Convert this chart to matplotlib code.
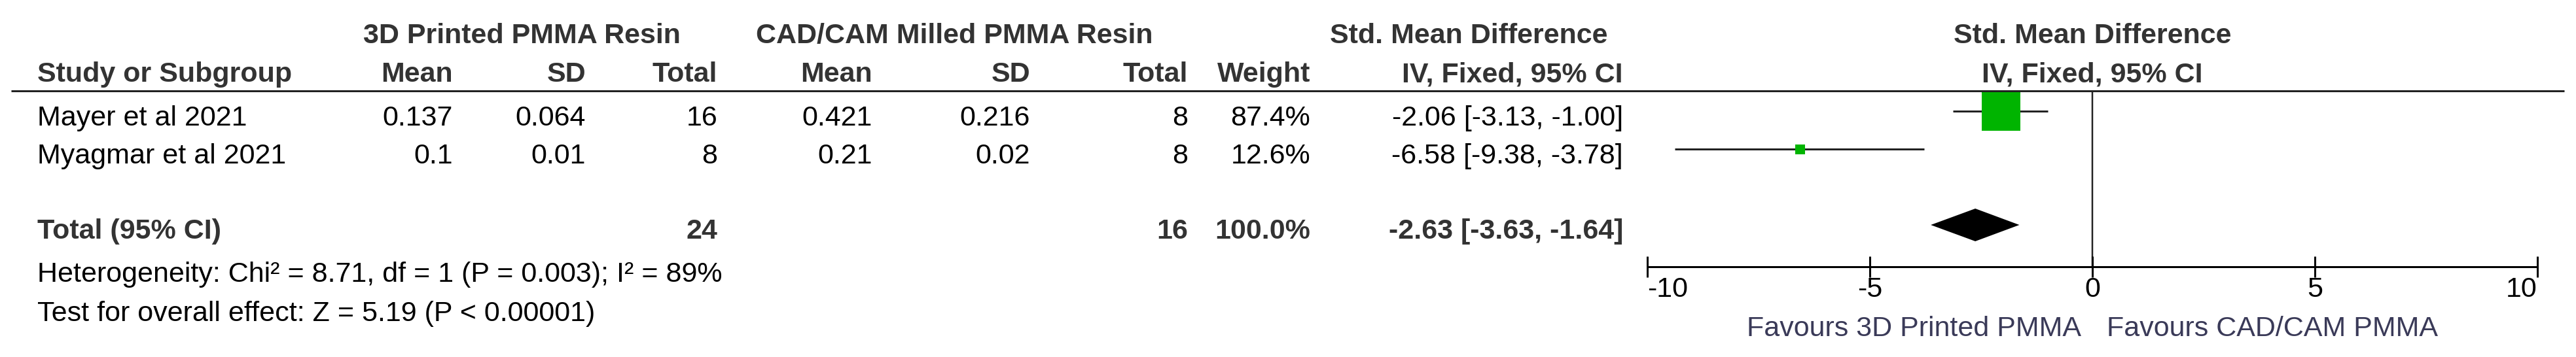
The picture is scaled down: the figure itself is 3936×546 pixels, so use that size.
import matplotlib
matplotlib.use("Agg")
import matplotlib.pyplot as plt
import matplotlib.transforms as mtransforms

# ── DATA ───────────────────────────────────────────────────────────────────────
studies = ["Mayer et al 2021", "Myagmar et al 2021"]
mean_3d = [0.137, 0.1]
sd_3d = [0.064, 0.01]
n_3d = [16, 8]
mean_cad = [0.421, 0.21]
sd_cad = [0.216, 0.02]
n_cad = [8, 8]
weights = [87.4, 12.6]
smd = [-2.06, -6.58]
ci_lo = [-3.13, -9.38]
ci_hi = [-1.00, -3.78]

total_label = "Total (95% CI)"
total_n_3d = 24
total_n_cad = 16
total_weight = 100.0
total_smd = -2.63
total_lo = -3.63
total_hi = -1.64

heterogeneity = "Heterogeneity: Chi\u00b2 = 8.71, df = 1 (P = 0.003); I\u00b2 = 89%"
overall_effect = "Test for overall effect: Z = 5.19 (P < 0.00001)"

group_3d = "3D Printed PMMA Resin"
group_cad = "CAD/CAM Milled PMMA Resin"
col_headers = ["Mean", "SD", "Total", "Mean", "SD", "Total", "Weight"]
effect_title = "Std. Mean Difference"
effect_sub = "IV, Fixed, 95% CI"
x_ticks = [-10, -5, 0, 5, 10]
favours_left = "Favours 3D Printed PMMA"
favours_right = "Favours CAD/CAM PMMA"

# ── STYLE ──────────────────────────────────────────────────────────────────────
W, H = 3936, 546
DPI = 100
FS = 31
FONT = ["Liberation Sans", "DejaVu Sans"]
HEAD_C = "#333333"
FAV_C = "#3a3a58"
GREEN = "#00b400"
box_px = [59, 15]          # square side in pixels per study
PX = 72.0 / DPI            # points per pixel

plt.rcParams["font.family"] = FONT

fig = plt.figure(figsize=(W / DPI, H / DPI), dpi=DPI)

# pixel-space axes for the table part
tax = fig.add_axes([0, 0, 1, 1])
tax.set_xlim(0, W)
tax.set_ylim(H, 0)
tax.axis("off")

# column right edges (px) and row baselines (px)
col_right = [692, 895, 1096, 1333, 1574, 1815, 2002, 2480]
row_base = [192, 250]
total_base = 365
label_x = 57


def put(x, y, s, ha="right", bold=False, color="black"):
    tax.text(x, y, s, ha=ha, va="baseline", fontsize=FS,
             fontweight="bold" if bold else "normal", color=color)


# headers
put(797, 66, group_3d, ha="center", bold=True, color=HEAD_C)
put(1458, 66, group_cad, ha="center", bold=True, color=HEAD_C)
put(2244, 66, effect_title, ha="center", bold=True, color=HEAD_C)
put(label_x, 125, "Study or Subgroup", ha="left", bold=True, color=HEAD_C)
for x, h in zip(col_right, col_headers + [effect_sub]):
    put(x, 125, h, bold=True, color=HEAD_C)

tax.plot([17, 3918], [139, 139], color="#222222", lw=3 * PX,
         solid_capstyle="butt")

# study rows
for i, name in enumerate(studies):
    y = row_base[i]
    put(label_x, y, name, ha="left")
    vals = [str(mean_3d[i]), str(sd_3d[i]), str(n_3d[i]),
            str(mean_cad[i]), str(sd_cad[i]), str(n_cad[i]),
            f"{weights[i]:.1f}%",
            f"{smd[i]:.2f} [{ci_lo[i]:.2f}, {ci_hi[i]:.2f}]"]
    for x, v in zip(col_right, vals):
        put(x, y, v)

# total row
put(label_x, total_base, total_label, ha="left", bold=True, color=HEAD_C)
put(col_right[2], total_base, str(total_n_3d), bold=True, color=HEAD_C)
put(col_right[5], total_base, str(total_n_cad), bold=True, color=HEAD_C)
put(col_right[6], total_base, f"{total_weight:.1f}%", bold=True, color=HEAD_C)
put(col_right[7], total_base,
    f"{total_smd:.2f} [{total_lo:.2f}, {total_hi:.2f}]", bold=True, color=HEAD_C)

put(label_x, 431, heterogeneity, ha="left")
put(label_x, 491, overall_effect, ha="left")

# ── FOREST PANEL ───────────────────────────────────────────────────────────────
fx0, fx1 = 2517, 3877      # pixel x of -10 and 10
fy0, fy1 = 140, 408        # pixel y of header line and axis
row0, row_h = 170, 58
ax = fig.add_axes([fx0 / W, (H - fy1) / H, (fx1 - fx0) / W, (fy1 - fy0) / H])
ax.patch.set_alpha(0)
ax.set_xlim(x_ticks[0], x_ticks[-1])
ax.set_ylim((fy1 - row0) / row_h, (fy0 - row0) / row_h)
for side in ["top", "left", "right"]:
    ax.spines[side].set_visible(False)
ax.spines["bottom"].set_linewidth(3 * PX)
ax.set_yticks([])
ax.set_xticks(x_ticks)
ax.set_xticklabels([str(t) for t in x_ticks])
ax.tick_params(axis="x", direction="inout", length=32 * PX, width=3 * PX,
               pad=-1, labelsize=FS)
labels = ax.get_xticklabels()
labels[0].set_horizontalalignment("left")
labels[-1].set_horizontalalignment("right")

ax.axvline(0, color="#222222", lw=2.5 * PX, zorder=1)

for i in range(len(studies)):
    ax.plot([ci_lo[i], ci_hi[i]], [i, i], color="#222222", lw=3 * PX,
            solid_capstyle="butt", zorder=2)
    ax.plot(smd[i], i, marker="s", color=GREEN, markersize=box_px[i] * PX,
            markeredgewidth=0, zorder=3)

ty = 3
dh = 25 / row_h
ax.fill([total_lo, total_smd, total_hi, total_smd],
        [ty, ty - dh, ty, ty + dh], color="black", lw=0, zorder=3)

# centred effect header over zero line
trans = mtransforms.blended_transform_factory(ax.transData, tax.transData)
tax.text(0, 66, effect_title, transform=trans, ha="center", va="baseline",
         fontsize=FS, fontweight="bold", color=HEAD_C)
tax.text(0, 125, effect_sub, transform=trans, ha="center", va="baseline",
         fontsize=FS, fontweight="bold", color=HEAD_C)
tax.text(-0.25, 514, favours_left, transform=trans, ha="right",
         va="baseline", fontsize=FS, color=FAV_C)
tax.text(0.32, 514, favours_right, transform=trans, ha="left",
         va="baseline", fontsize=FS, color=FAV_C)

fig.savefig("out.png", dpi=DPI)
